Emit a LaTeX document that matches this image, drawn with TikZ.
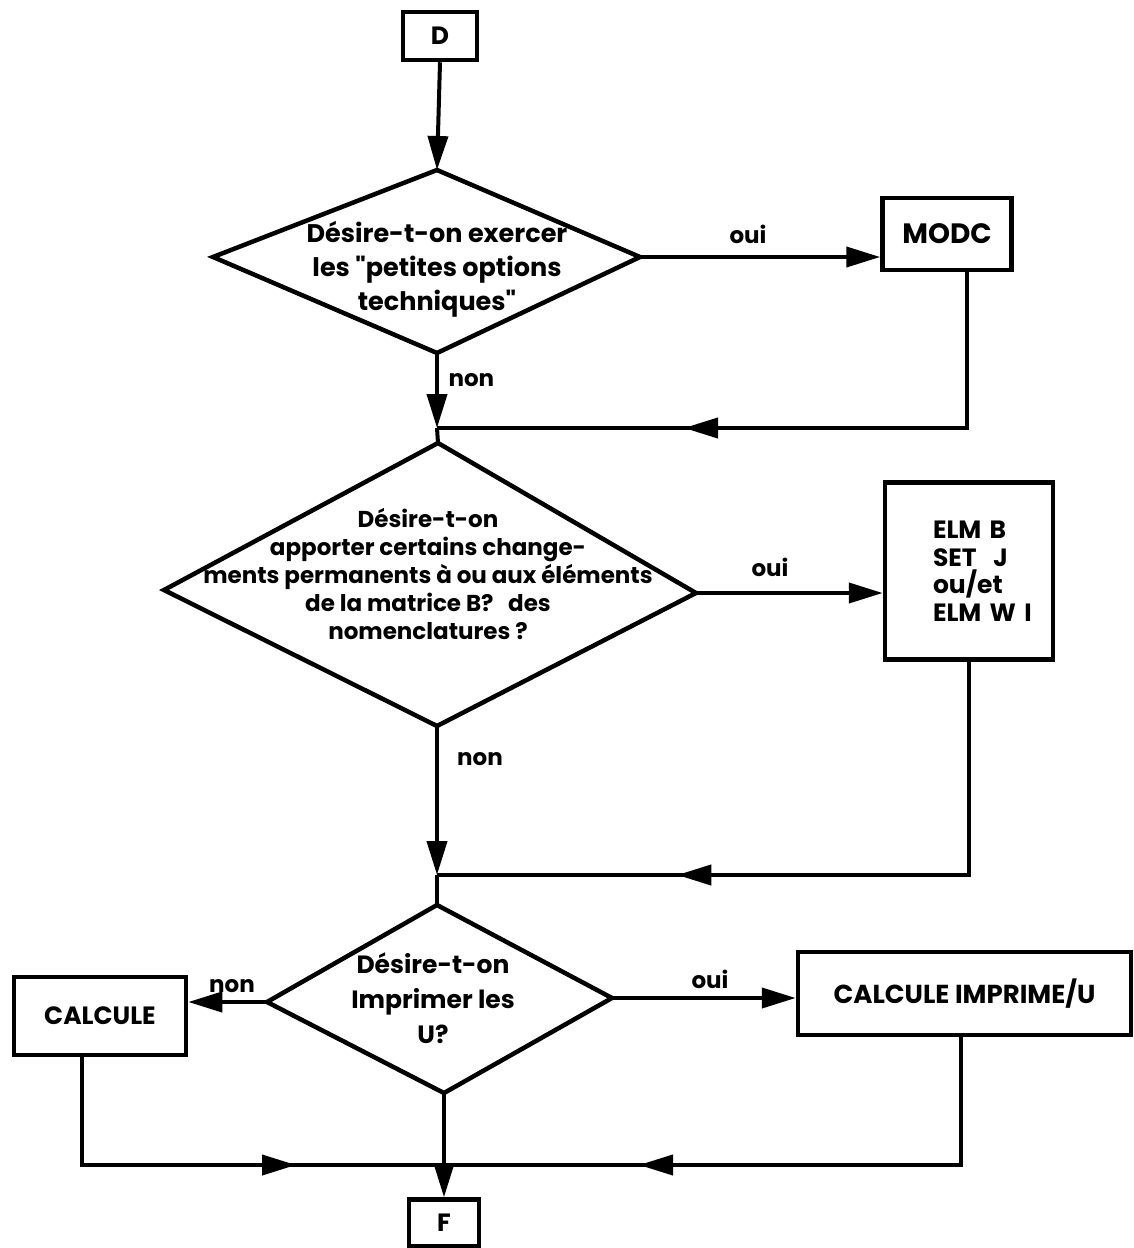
\documentclass[tikz,border=0pt]{standalone}
\usepackage{fontspec}
\setmainfont{Poppins}[Ligatures=TeXOff]
\usetikzlibrary{arrows.meta,decorations.markings}
\begin{document}
\begin{tikzpicture}[x=1pt,y=-1pt,
  ln/.style={line width=4pt},
  tip/.style={-{Triangle[length=34pt,width=20pt]}},
  dia/.style={line width=4.5pt,line join=miter},
  boxst/.style={draw,line width=4.5pt,inner sep=0pt},
  lab/.style={font=\fontsize{23}{26}\selectfont\bfseries},
  midarr/.style={postaction={decorate},decoration={markings,mark=at position #1 with {\arrow{Triangle[length=34pt,width=20pt]}}}}]
\useasboundingbox (0,0) rectangle (1134,1248);

% terminals
\node[boxst,minimum width=74pt,minimum height=48pt,font=\fontsize{25}{28}\selectfont\bfseries] (D) at (440,36) {D};
\node[boxst,minimum width=70pt,minimum height=47pt,font=\fontsize{25}{28}\selectfont\bfseries] (F) at (444,1223) {F};

% diamond 1
\coordinate (d1t) at (437,170);
\coordinate (d1r) at (640,257);
\coordinate (d1b) at (437,353);
\coordinate (d1l) at (213,257);
\draw[dia] (d1t)--(d1r)--(d1b)--(d1l)--cycle;
\node[align=center,font=\fontsize{25.5}{34}\selectfont\bfseries] (q1) at (437,269)
  {Désire-t-on exercer\\les "petites options\\techniques"};

% diamond 2
\coordinate (d2t) at (438,443);
\coordinate (d2r) at (696,593);
\coordinate (d2b) at (437,726);
\coordinate (d2l) at (164,590);
\draw[dia] (d2t)--(d2r)--(d2b)--(d2l)--cycle;
\node[align=center,font=\fontsize{23}{28}\selectfont\bfseries] (q2) at (428,574)
  {Désire-t-on\\apporter certains change-\\ments permanents à ou aux éléments\\de la matrice B?~~~des\\nomenclatures ?};

% diamond 3
\coordinate (d3t) at (437,905);
\coordinate (d3r) at (612,998);
\coordinate (d3b) at (444,1093);
\coordinate (d3l) at (267,1002);
\draw[dia] (d3t)--(d3r)--(d3b)--(d3l)--cycle;
\node[align=center,font=\fontsize{25}{35}\selectfont\bfseries] (q3) at (433,998)
  {Désire-t-on\\Imprimer les\\U?};

% process boxes
\node[boxst,minimum width=129pt,minimum height=72pt,font=\fontsize{28}{30}\selectfont\bfseries] (modc) at (947,234) {MODC};
\node[boxst,minimum width=168pt,minimum height=177pt,text width=72pt,align=left,font=\fontsize{25}{27.5}\selectfont\bfseries] (elm) at (969,571)
  {\mbox{ELM B}\\\mbox{SET~~J}\\\mbox{ou/et}\\\mbox{ELM W I}};
\node[boxst,minimum width=172pt,minimum height=78pt,font=\fontsize{25}{28}\selectfont\bfseries] (calc) at (100,1016) {CALCULE};
\node[boxst,minimum width=333pt,minimum height=83pt,font=\fontsize{26}{28}\selectfont\bfseries] (calcimp) at (964.5,993.5) {CALCULE IMPRIME/U};

% merge points
\coordinate (m1) at (437,428);
\coordinate (m2) at (437,875);
\coordinate (m3) at (444,1165);

% connectors
\draw[ln,tip] (D.south) -- (d1t);
\draw[ln,tip] (d1r) -- (d1r -| modc.west);
\draw[ln,tip] (d1b) -- (m1);
\draw[ln,midarr=441pt] (967,270) -- (967,428) -- (m1);
\draw[ln] (m1) -- (d2t);

\draw[ln,tip] (d2r) -- (d2r -| elm.west);
\draw[ln,tip] (d2b) -- (m2);
\draw[ln,midarr=505pt] (elm.south) -- (elm.south |- m2) -- (m2);
\draw[ln] (m2) -- (d3t);

\draw[ln,tip] (d3l) -- (d3l -| calc.east);
\draw[ln,tip] (d3r) -- (d3r -| calcimp.west);
\draw[ln,tip] (d3b) -- (F.north);
\draw[ln,midarr=324pt] (82,1055) -- (82,1165) -- (m3);
\draw[ln,midarr=452pt] (961,1035) -- (961,1165) -- (m3);

% labels
\node[lab] (l1) at (748,234) {oui};
\node[lab,anchor=west] (l2) at (445,380) {non};
\node[lab] (l3) at (770,567) {oui};
\node[lab] (l4) at (480,759) {non};
\node[lab] (l5) at (232,986) {non};
\node[lab] (l6) at (710,979) {oui};
\end{tikzpicture}
\end{document}
